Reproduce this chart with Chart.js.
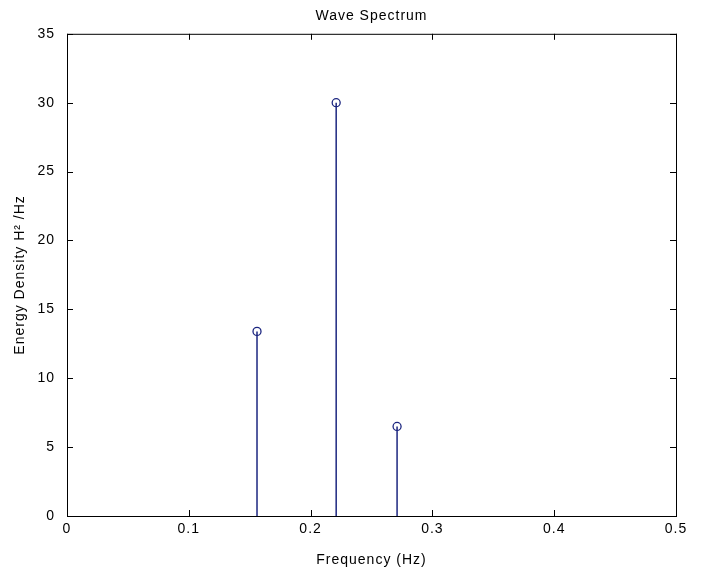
<!DOCTYPE html>
<html>
<head>
<meta charset="utf-8">
<script src="https://cdn.jsdelivr.net/npm/chart.js@4"></script>
<style>
  body { margin: 0; background: #fff; }
  #wrap { width: 705px; height: 573px; }
</style>
</head>
<body>
<div id="wrap"><canvas id="chart" width="705" height="573"></canvas></div>
<script>
// frequencies of the stems (Hz) and their energy density
var freqs = [0.156, 0.221, 0.271]
var energy = [13.4, 30.0, 6.5]
var xTicks = [0, 0.1, 0.2, 0.3, 0.4, 0.5]
var yTicks = [0, 5, 10, 15, 20, 25, 30, 35]

var stemColor = "#1c2680"
var fontFam = "'Liberation Sans', Arial, sans-serif"

var datasets = []
freqs.forEach(function (f, i) {
    datasets.push({
        data: [{ x: f, y: 0 }, { x: f, y: energy[i] }],
        showLine: true,
        borderColor: stemColor,
        borderWidth: 1.5,
        pointRadius: 0
    })
})
datasets.push({
    data: freqs.map(function (f, i) { return { x: f, y: energy[i] } }),
    showLine: false,
    pointStyle: "circle",
    pointRadius: 4,
    pointBorderWidth: 1.3,
    pointBorderColor: stemColor,
    pointBackgroundColor: "#fff"
})

// the scanned matlab text is a bit wider than plain Arial
var spacingPlugin = {
    id: "spacing",
    beforeLayout: function (chart) { chart.ctx.letterSpacing = "1px" },
    beforeDraw: function (chart) { chart.ctx.letterSpacing = "1px" }
}

// MATLAB style box with inward ticks
var boxPlugin = {
    id: "box",
    afterDraw: function (chart) {
        var ctx = chart.ctx
        var a = chart.chartArea
        var xs = chart.scales.x, ys = chart.scales.y
        ctx.save()
        ctx.strokeStyle = "#000"
        ctx.lineWidth = 1
        ctx.strokeRect(a.left + 0.5, a.top + 0.5, a.right - a.left, a.bottom - a.top)
        ctx.beginPath()
        xTicks.forEach(function (t) {
            var px = Math.round(xs.getPixelForValue(t)) + 0.5
            ctx.moveTo(px, a.bottom); ctx.lineTo(px, a.bottom - 6)
            ctx.moveTo(px, a.top); ctx.lineTo(px, a.top + 6)
        })
        yTicks.forEach(function (t) {
            var py = Math.round(ys.getPixelForValue(t)) + 0.5
            ctx.moveTo(a.left, py); ctx.lineTo(a.left + 6, py)
            ctx.moveTo(a.right, py); ctx.lineTo(a.right - 6, py)
        })
        ctx.stroke()
        ctx.restore()
    }
}

new Chart(document.querySelector("#chart"), {
    type: "scatter",
    data: { datasets: datasets },
    options: {
        responsive: false,
        animation: false,
        layout: { padding: { top: 0, right: 29, left: 0, bottom: 0 } },
        plugins: {
            legend: { display: false },
            tooltip: { enabled: false },
            title: {
                display: true,
                fullSize: false,
                text: "Wave Spectrum",
                color: "#000",
                font: { family: fontFam, size: 14, weight: "normal" },
                padding: { top: 8, bottom: 9 }
            }
        },
        scales: {
            x: {
                type: "linear",
                min: 0, max: 0.5,
                afterBuildTicks: function (s) { s.ticks = xTicks.map(function (v) { return { value: v } }) },
                afterFit: function (s) { s.height = 57 },
                grid: { display: false },
                border: { display: false },
                ticks: {
                    color: "#000",
                    padding: -3,
                    font: { family: fontFam, size: 14 },
                    callback: function (v) { return v === 0 ? "0" : String(v) }
                },
                title: {
                    display: true,
                    text: "Frequency (Hz)",
                    color: "#000",
                    font: { family: fontFam, size: 14 },
                    padding: { top: 6, bottom: 4 }
                }
            },
            y: {
                min: 0, max: 35,
                afterBuildTicks: function (s) { s.ticks = yTicks.map(function (v) { return { value: v } }) },
                afterFit: function (s) { s.width = 67 },
                grid: { display: false },
                border: { display: false },
                ticks: {
                    color: "#000",
                    padding: 4,
                    font: { family: fontFam, size: 14 }
                },
                title: {
                    display: true,
                    text: "Energy Density H\u00B2 /Hz",
                    color: "#000",
                    font: { family: fontFam, size: 14 },
                    padding: { top: 12, bottom: 2 }
                }
            }
        }
    },
    plugins: [spacingPlugin, boxPlugin]
})
</script>
</body>
</html>
